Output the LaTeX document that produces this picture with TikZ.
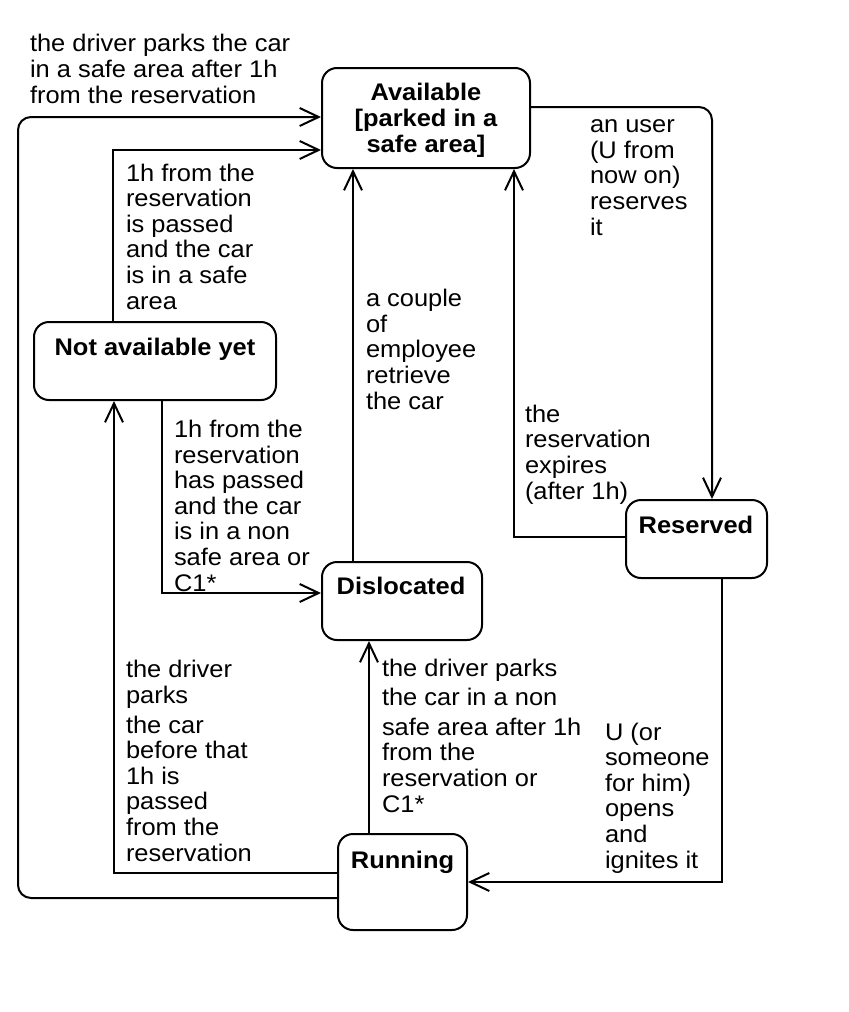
\documentclass[tikz,border=0pt]{standalone}
\usepackage{fontspec}
\setmainfont{Liberation Sans}[FakeStretch=1.06]
\usetikzlibrary{arrows.meta}
\newcommand{\lblfont}{\fontsize{12pt}{12.8pt}\selectfont}

\begin{document}
\begin{tikzpicture}[x=0.5pt, y=-0.5pt, line width=1pt,
  stbox/.style={draw, rounded corners=7.5pt, inner sep=0pt},
  ttl/.style={anchor=base, inner sep=0pt, font=\lblfont\bfseries},
  lbl/.style={anchor=base west, align=left, inner sep=0pt, font=\lblfont},
  trans/.style={-{Straight Barb[length=9.5pt, width=9pt]}}]
  \useasboundingbox (0,0) rectangle (848,1012);
  % states (a multi-line text sits on its last baseline)
  \node[stbox, minimum width=104pt, minimum height=50pt] (avail) at (426,118) {};
  \node[ttl, align=center] (availT) at (426,152) {Available\\{}[parked in a\\safe area]};
  \node[stbox, minimum width=121pt, minimum height=39pt] (notav) at (155,361) {};
  \node[ttl] (notavT) at (155,355) {Not available yet};
  \node[stbox, minimum width=80pt, minimum height=39pt] (disloc) at (402,601) {};
  \node[ttl] (dislocT) at (401,594) {Dislocated};
  \node[stbox, minimum width=70.5pt, minimum height=39pt] (resv) at (696.5,539) {};
  \node[ttl] (resvT) at (696,533) {Reserved};
  \node[stbox, minimum width=64.5pt, minimum height=48pt] (run) at (402.5,882) {};
  \node[ttl] (runT) at (402.5,868) {Running};

  % bend points
    \coordinate (lb) at (18,898);
    \coordinate (lt) at (18,117);
    \coordinate (nt) at (113,150);
    \coordinate (rt) at (712,107);
    \coordinate (rl) at (514,537);
    \coordinate (dx) at (353,400);
    \coordinate (nd) at (162,593);
    \coordinate (rn) at (114,873);
    \coordinate (rx) at (369,740);
    \coordinate (rr) at (722,882);

  % transitions
  \draw[trans, rounded corners=6.5pt] (run.west |- lb) -- (lb) -- (lt) -- (avail.west |- lt); % outer loop
  \draw[trans] (notav.north -| nt) -- (nt) -- (avail.west |- nt);
  \draw[trans, rounded corners=6.5pt] (avail.east |- rt) -- (rt) -- (resv.north -| rt);
  \draw[trans] (resv.west |- rl) -- (rl) -- (avail.south -| rl);
  \draw[trans] (disloc.north -| dx) -- (avail.south -| dx);
  \draw[trans] (notav.south -| nd) -- (nd) -- (disloc.west |- nd);
  \draw[trans] (run.west |- rn) -- (rn) -- (notav.south -| rn);
  \draw[trans] (run.north -| rx) -- (disloc.south -| rx);
  \draw[trans] (resv.south -| rr) -- (rr) -- (run.east |- rr);

  % labels, placed by their last baseline
  \node[lbl] (l1) at (29,103) {the driver parks the car\\in a safe area after 1h\\from the reservation};
  \node[lbl] (l2) at (125,309) {1h from the\\reservation\\is passed\\and the car\\is in a safe\\area};
  \node[lbl] (l3) at (589,235) {an user\\(U from\\now on)\\reserves\\it};
  \node[lbl] (l4) at (524,499) {the\\reservation\\expires\\(after 1h)};
  \node[lbl] (l5) at (365,409) {a couple\\of\\employee\\retrieve\\the car};
  \node[lbl] (l6) at (173,591) {1h from the\\reservation\\has passed\\and the car\\is in a non\\safe area or\\C1*};
  \node[lbl] (l7) at (125,861) {the driver\\parks\\[2pt]the car\\before that\\1h is\\passed\\from the\\reservation};
  \node[lbl] (l8) at (381,812) {the driver parks\\[2pt]the car in a non\\[2pt]safe area after 1h\\from the\\reservation or\\C1*};
  \node[lbl] (l9) at (604,868) {U (or\\someone\\for him)\\opens\\and\\ignites it};
\end{tikzpicture}
\end{document}
